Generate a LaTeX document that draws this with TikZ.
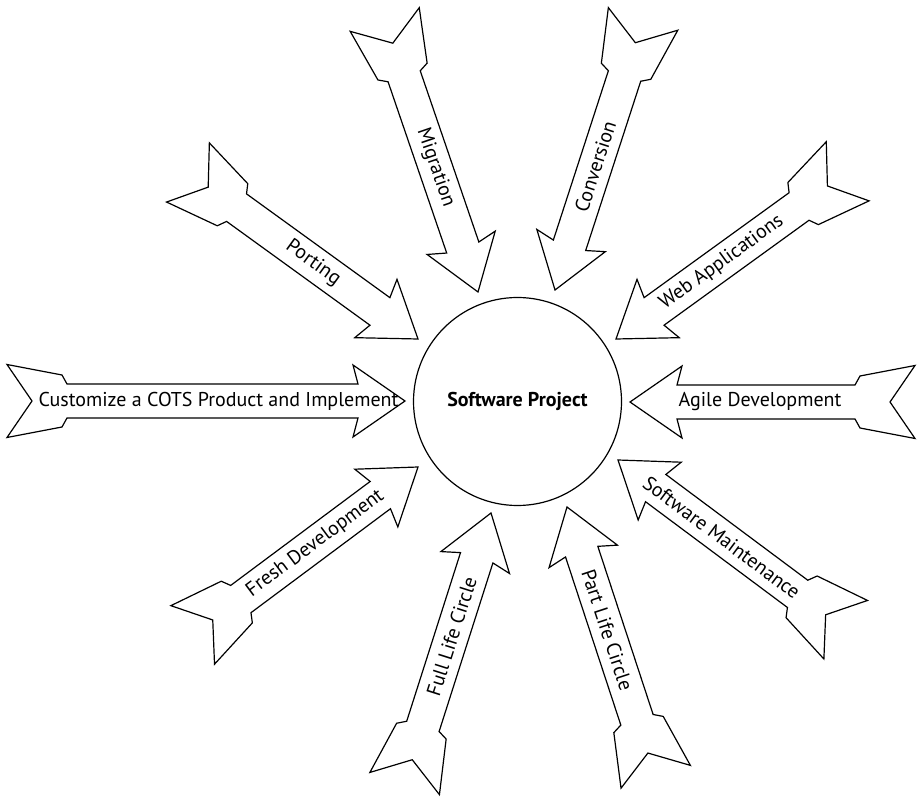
\documentclass[tikz,border=0pt]{standalone}
\usepackage{fontspec}
\setmainfont{PT Sans}
\usetikzlibrary{calc}

\newcommand{\Fletch}[6]{%
\begin{scope}[shift={#2}, rotate=#3]
\draw[fletchStyle] (0,0) -- (52,36) -- (47,17) -- ({#4-60},17) -- ({#4-55},26) -- (#4,36.5) -- ({#4-25},0) -- (#4,-36.5) -- ({#4-55},-26) -- ({#4-60},-17) -- (47,-17) -- (52,-36) -- cycle;
\node[labelStyle, rotate=#5] (#1) at ({(#4-25)/2},0) {#6};
\end{scope}}

\begin{document}
\begin{tikzpicture}[x = 1pt, y = 1pt]
\tikzstyle{fletchStyle} = [draw, line width = 1.2pt, line join = miter, fill = white]
\tikzstyle{labelStyle} = [inner sep = 0pt, font = \fontsize{20}{22}\selectfont]
\tikzstyle{projectStyle} = [shape = circle, draw, line width = 1.2pt, minimum size = 208pt, inner sep = 0pt, font = \fontsize{20}{22}\selectfont\bfseries]
\useasboundingbox (0,0) rectangle (920,798);
\node[projectStyle] (project) at (517.5,396.5) {Software Project};
\Fletch{customize}{(405,397)}{180}{398}{0}{Customize a COTS Product and Implement}
\Fletch{porting}{(418,459)}{144.1}{284}{-35.9}{Porting}
\Fletch{migration}{(478,506)}{108.9}{288}{-71.1}{Migration}
\Fletch{conversion}{(555,508)}{72}{285}{72}{Conversion}
\Fletch{web}{(616,459)}{35.9}{286}{35.9}{Web Applications}
\Fletch{agile}{(630,396)}{0}{285}{0}{Agile Development}
\Fletch{maintenance}{(618,338)}{323.3}{284}{-36.7}{Software Maintenance}
\Fletch{partlife}{(567,291)}{288.2}{284}{-71.8}{Part Life Circle}
\Fletch{fulllife}{(491,285)}{252.3}{284}{72.3}{Full Life Circle}
\Fletch{fresh}{(418,331)}{216.7}{281}{36.7}{Fresh Development}
\end{tikzpicture}
\end{document}
